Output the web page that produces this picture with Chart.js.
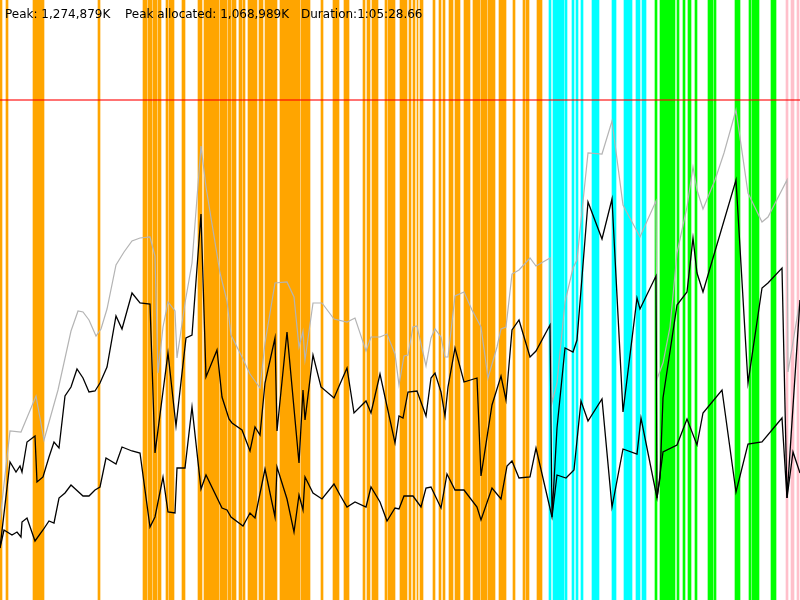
<!DOCTYPE html>
<html>
<head>
<meta charset="utf-8">
<script src="https://cdn.jsdelivr.net/npm/chart.js@4/dist/chart.umd.min.js"></script>
<style>
	html, body { margin: 0; padding: 0; background: #fff; }
	#wrap { width: 800px; height: 600px; position: relative; }
</style>
</head>
<body>
<div id="wrap"><canvas id="memory-chart"></canvas></div>
<script>
// time runs 0..800 (one slot per tick), memory in chart units (peak = 500)
var SLOTS = 800;
var Y_TOP = 600;
var PEAK = 500;

// coloured activity spans [start, end)
var orangeSpans = [[0,2],[6,8],[33,44],[98,100],[143,147],[148,152],[153,157],[158,161],[166,168],[169,174],[182,185],[198,202],[204,219],[220,227],[228,231],[232,236],[239,242],[243,245],[248,257],[259,263],[265,277],[280,300],[301,310],[321,323],[333,339],[344,349],[363,365],[367,370],[372,378],[385,387],[388,395],[400,407],[409,411],[413,415],[417,418],[420,423],[433,435],[439,441],[443,445],[449,453],[455,460],[464,470],[473,480],[481,487],[488,495],[499,506],[513,515],[523,525],[526,529],[537,542]];
var cyanSpans = [[549,551],[553,564],[565,567],[572,574],[576,578],[581,583],[592,599],[612,616],[624,632],[636,640],[642,646]];
var greenSpans = [[655,657],[660,675],[677,679],[683,685],[688,691],[695,697],[708,713],[714,716],[735,740],[749,751],[752,759],[771,776]];
var pinkSpans = [[786,788],[791,794],[797,799]];

// memory series [time, value]
var totalMem = [[0,80],[10,169],[21,168],[36,204],[44,160],[58,210],[71,269],[78,289],[83,288],[89,280],[96,264],[101,271],[107,291],[116,335],[124,348],[132,359],[140,362],[150,363],[155,344],[158,227],[163,273],[168,298],[175,289],[177,242],[185,297],[192,337],[201,454],[206,413],[220,327],[227,299],[231,265],[242,243],[250,226],[260,212],[265,257],[275,317],[287,318],[294,303],[299,253],[303,269],[305,240],[313,297],[322,297],[334,281],[347,278],[355,282],[366,249],[371,263],[380,263],[387,266],[395,246],[399,215],[404,244],[408,245],[413,273],[417,274],[426,234],[431,262],[435,271],[441,263],[445,243],[448,243],[455,304],[464,308],[472,290],[481,273],[488,222],[497,253],[501,271],[506,273],[512,326],[519,330],[530,342],[536,334],[550,342],[552,197],[557,217],[565,298],[573,332],[577,340],[588,447],[602,446],[612,479],[623,395],[640,363],[656,399],[657,221],[663,237],[670,273],[677,347],[687,393],[693,433],[697,410],[703,391],[715,420],[724,447],[736,490],[748,407],[762,378],[768,383],[787,420],[788,228],[800,300]];
var allocMem = [[0,52],[10,138],[16,128],[20,134],[22,128],[27,158],[35,164],[37,118],[43,123],[49,143],[54,158],[59,152],[65,204],[71,213],[77,231],[83,222],[89,208],[95,209],[100,217],[107,233],[116,284],[122,271],[132,307],[140,297],[150,296],[155,147],[168,247],[176,174],[186,262],[192,265],[201,386],[206,223],[217,250],[222,203],[229,181],[232,177],[242,170],[250,149],[255,173],[260,165],[265,217],[275,262],[277,169],[287,268],[299,137],[303,210],[305,180],[313,245],[321,213],[334,202],[340,216],[347,232],[354,187],[366,199],[371,187],[380,226],[395,157],[399,184],[403,182],[408,208],[417,209],[426,184],[431,222],[435,227],[441,208],[445,184],[448,213],[455,252],[464,218],[477,222],[481,124],[492,195],[501,224],[506,200],[512,270],[519,280],[530,243],[536,249],[550,275],[552,83],[557,172],[565,252],[573,248],[577,260],[588,398],[602,361],[612,401],[623,188],[637,302],[640,291],[656,324],[657,102],[660,122],[663,202],[677,295],[687,308],[693,362],[697,327],[703,308],[736,420],[748,217],[762,312],[768,317],[782,332],[787,102],[800,300]];
var liveMem = [[0,52],[4,70],[12,65],[17,68],[21,63],[22,78],[27,82],[35,59],[43,70],[49,79],[54,77],[59,102],[65,107],[71,115],[83,104],[89,104],[95,110],[100,113],[106,142],[116,136],[122,153],[132,149],[140,147],[150,73],[155,83],[163,123],[168,88],[175,87],[177,132],[185,132],[192,193],[201,111],[206,125],[222,92],[227,90],[231,83],[243,74],[250,87],[255,82],[265,131],[275,83],[277,133],[287,101],[294,68],[299,105],[303,90],[305,123],[313,107],[322,101],[334,116],[340,105],[347,93],[355,98],[366,93],[371,113],[380,98],[387,79],[395,92],[399,91],[404,104],[413,104],[421,93],[426,112],[431,113],[441,92],[447,126],[455,110],[464,110],[477,93],[481,80],[492,112],[501,101],[507,134],[512,139],[519,122],[530,123],[536,152],[552,83],[557,125],[566,122],[574,130],[581,199],[588,179],[602,201],[612,93],[623,151],[637,146],[641,182],[657,102],[663,148],[677,155],[687,181],[697,155],[703,187],[722,210],[736,108],[748,156],[762,158],[782,182],[787,102],[793,148],[800,127]];

var headerTexts = ["Peak: 1,274,879K", "Peak allocated: 1,068,989K", "Duration:1:05:28.66"];

function slotsFrom(spans) {
	var arr = [];
	for (var i = 0; i < SLOTS; i++) arr.push(null);
	spans.forEach(function (s) {
		for (var i = s[0]; i < s[1]; i++) arr[i] = Y_TOP;
	});
	return arr;
}

function points(series) {
	return series.map(function (p) { return { x: p[0], y: p[1] }; });
}

var labels = [];
for (var i = 0; i < SLOTS; i++) labels.push(i);

function bandSet(spans, colour) {
	return {
		type: 'bar',
		data: slotsFrom(spans),
		backgroundColor: colour,
		borderWidth: 0,
		categoryPercentage: 1,
		barPercentage: 1,
		grouped: false,
		xAxisID: 'x',
		order: 5
	};
}

function lineSet(series, colour, width, order) {
	return {
		type: 'line',
		data: points(series),
		borderColor: colour,
		borderWidth: width,
		pointRadius: 0,
		tension: 0,
		fill: false,
		xAxisID: 'xt',
		order: order
	};
}

var header = {
	id: 'header',
	afterDraw: function (chart) {
		var ctx = chart.ctx;
		ctx.save();
		ctx.font = "12px 'DejaVu Sans'";
		ctx.fillStyle = '#000';
		ctx.textBaseline = 'alphabetic';
		var xs = [5, 125, 301];
		headerTexts.forEach(function (t, i) { ctx.fillText(t, xs[i], 18); });
		ctx.restore();
	}
};

new Chart(document.getElementById('memory-chart').getContext('2d'), {
	data: {
		labels: labels,
		datasets: [
			bandSet(orangeSpans, 'rgb(255,165,0)'),
			bandSet(cyanSpans, 'rgb(0,255,255)'),
			bandSet(greenSpans, 'rgb(0,255,0)'),
			bandSet(pinkSpans, 'rgb(255,192,203)'),
			lineSet([[0, PEAK], [SLOTS, PEAK]], 'rgba(255,0,0,0.55)', 2, 3),
			lineSet(totalMem, '#b4b4b4', 1.2, 2),
			lineSet(allocMem, '#000', 1.3, 1),
			lineSet(liveMem, '#000', 1.3, 0)
		]
	},
	options: {
		responsive: true,
		maintainAspectRatio: false,
		animation: false,
		layout: { padding: 0 },
		plugins: { legend: { display: false }, tooltip: { enabled: false } },
		scales: {
			x: { type: 'category', display: false, offset: true },
			xt: { type: 'linear', display: false, min: 0, max: SLOTS, offset: false },
			y: { display: false, min: 0, max: Y_TOP }
		}
	},
	plugins: [header]
});
</script>
</body>
</html>
